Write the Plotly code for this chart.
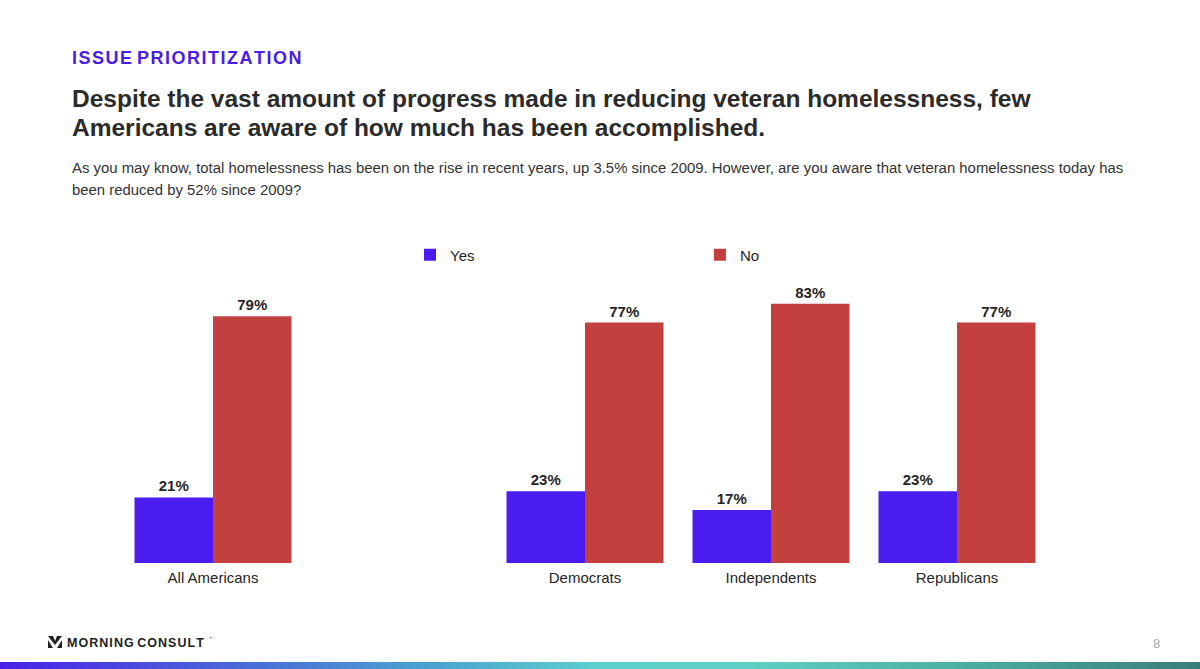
import base64
import plotly.graph_objects as go

# survey answers, in percent (blank slot keeps the gap after "All Americans")
groups = ["All Americans", " ", "Democrats", "Independents", "Republicans"]
yes_pct = [21, None, 23, 17, 23]
no_pct = [79, None, 77, 83, 77]

YES_COLOR = "#4a1cf0"
NO_COLOR = "#c4403e"
FONT = "Liberation Sans, Arial, sans-serif"
TXT = "#262626"


def gradient_uri():
    svg = (
        '<svg xmlns="http://www.w3.org/2000/svg" width="1200" height="8" preserveAspectRatio="none">'
        '<defs><linearGradient id="g" x1="0" x2="1" y1="0" y2="0">'
        '<stop offset="0" stop-color="#4a22e8"/>'
        '<stop offset="0.2" stop-color="#4a6ad8"/>'
        '<stop offset="0.35" stop-color="#4aa0d0"/>'
        '<stop offset="0.5" stop-color="#5ccfcc"/>'
        '<stop offset="0.62" stop-color="#5fd0c3"/>'
        '<stop offset="0.82" stop-color="#4aaba0"/>'
        '<stop offset="1" stop-color="#3a7c7c"/>'
        '</linearGradient></defs>'
        '<rect width="1200" height="8" fill="url(#g)"/></svg>'
    )
    return "data:image/svg+xml;base64," + base64.b64encode(svg.encode()).decode()


fig = go.Figure()
for name, vals, color in [("Yes", yes_pct, YES_COLOR), ("No", no_pct, NO_COLOR)]:
    fig.add_trace(
        go.Bar(
            x=groups,
            y=vals,
            name=name,
            marker=dict(color=color, line=dict(width=0)),
            text=[f"{v}%" if v is not None else "" for v in vals],
            textposition="outside",
            textfont=dict(family=FONT, size=15, color=TXT, weight="bold"),
            cliponaxis=False,
        )
    )

W, H = 1200, 669
L, R, T, B = 120, 150, 282, 106


def px(x, y):
    # page pixels -> paper coords
    return (x - L) / (W - L - R), (H - B - y) / (H - T - B)


def spaced(s):
    return " ".join("\u200a".join(w) for w in s.split(" "))


anns = []


def note(text, x, y, size, color=TXT, bold=False, anchor="left"):
    ax, ay = px(x, y)
    anns.append(
        dict(
            text=text, x=ax, y=ay, xref="paper", yref="paper",
            xanchor=anchor, yanchor="middle", showarrow=False, align="left",
            font=dict(family=FONT, size=size, color=color,
                      weight="bold" if bold else "normal"),
        )
    )


note(spaced("ISSUE PRIORITIZATION"), 70, 58, 18, "#4a1de8", bold=True)
note("Despite the vast amount of progress made in reducing veteran homelessness, few", 70, 98, 24.5, "#2b2b2b", True)
note("Americans are aware of how much has been accomplished.", 70, 127, 24.5, "#2b2b2b", True)
note("As you may know, total homelessness has been on the rise in recent years, up 3.5% since 2009. "
     "However, are you aware that veteran homelessness today has", 70, 168, 14.9, "#333333")
note("been reduced by 52% since 2009?", 70, 190, 14.9, "#333333")
note(spaced("MORNING CONSULT"), 65, 643, 12.5, "#222222", bold=True)
note("\u00b7", 207, 637, 10, "#222222")
note("8", 1156, 643, 13, "#aaaaaa", anchor="center")

lx, ly = px(410, 255)

fig.update_layout(
    width=W,
    height=H,
    margin=dict(l=L, r=R, t=T, b=B, autoexpand=False),
    paper_bgcolor="white",
    plot_bgcolor="white",
    barmode="group",
    bargap=0.156,
    bargroupgap=0,
    font=dict(family=FONT, color=TXT),
    xaxis=dict(
        showgrid=False, showline=False, zeroline=False, ticks="",
        ticklabelstandoff=4,
        tickfont=dict(family=FONT, size=15, color=TXT),
    ),
    yaxis=dict(range=[0, 90], visible=False, showgrid=False, zeroline=False),
    showlegend=True,
    legend=dict(
        orientation="h", x=lx, y=ly, xanchor="left", yanchor="middle",
        entrywidth=245, entrywidthmode="pixels", itemwidth=30,
        font=dict(family=FONT, size=15, color=TXT),
        bgcolor="rgba(0,0,0,0)", traceorder="normal",
    ),
    annotations=anns,
    images=[
        dict(source=gradient_uri(), xref="paper", yref="paper",
             x=px(0, 0)[0], y=px(0, 662)[1], sizex=W / (W - L - R),
             sizey=8 / (H - T - B), sizing="stretch", xanchor="left",
             yanchor="top", layer="above"),
    ],
    shapes=[
        # logo mark
        dict(type="path", xref="paper", yref="paper",
             path="M {} {} L {} {} L {} {} L {} {} L {} {} L {} {} Z".format(
                 *px(48, 636), *px(53, 636), *px(55, 641), *px(57, 636),
                 *px(62, 636), *px(55, 645)),
             fillcolor="#222222", line=dict(width=0)),
        dict(type="path", xref="paper", yref="paper",
             path="M {} {} L {} {} L {} {} Z M {} {} L {} {} L {} {} Z".format(
                 *px(48, 640), *px(48, 648), *px(53, 648),
                 *px(62, 640), *px(62, 648), *px(57, 648)),
             fillcolor="#222222", line=dict(width=0)),
    ],
)

fig.write_html(
    "out.html",
    config={"displayModeBar": False},
    post_script="document.body.style.margin='0';",
)
